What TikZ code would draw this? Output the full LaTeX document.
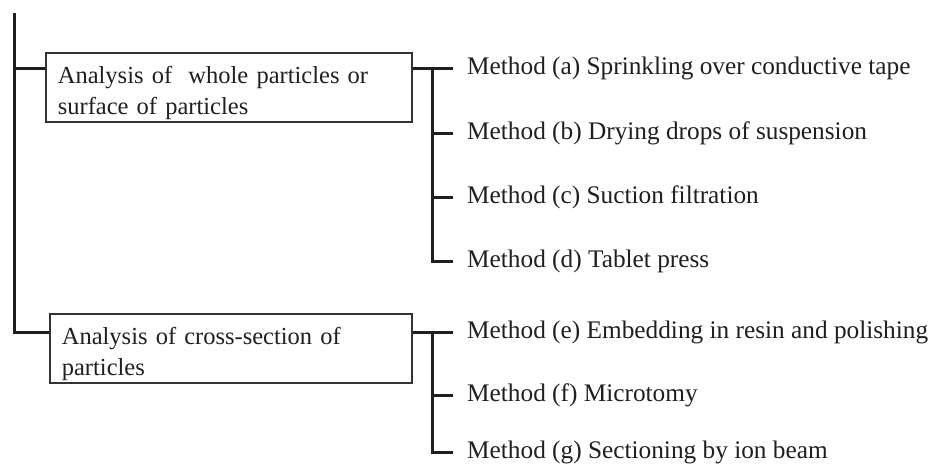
\documentclass[tikz,border=0pt]{standalone}
\usepackage{fontspec}
\setmainfont{Liberation Serif}
\usetikzlibrary{calc}
\begin{document}
\begin{tikzpicture}[x=1pt,y=-1pt,
  conn/.style={line width=3pt, draw=black!88},
  catbox/.style={draw=black!80, line width=1.7pt, anchor=north west,
    minimum height=69pt, inner xsep=12pt, inner ysep=0pt, align=left,
    text=black!88, font=\fontsize{24.5}{31}\selectfont},
  method/.style={anchor=base west, inner sep=0pt, text=black!88,
    font=\fontsize{25.3}{30}\selectfont}]
\useasboundingbox (0,0) rectangle (933,463);

% category boxes
\node[catbox, text width=342pt, minimum width=366pt] (b1) at (45,52)
  {\rule{0pt}{28pt}Analysis of~ whole particles or\\surface of particles};
\node[catbox, text width=338pt, minimum width=362pt] (b2) at (49,313)
  {\rule{0pt}{28pt}Analysis of cross-section of\\particles};

% main trunk
\coordinate (top) at (14,13);
\coordinate (j1) at (14,68);
\coordinate (j2) at (14,332);
\draw[conn] (top) -- (j2) -- (b2.west |- j2);
\draw[conn] (j1) -- (b1.west |- j1);

% methods, group 1
\node[method] (ma) at (467,74) {Method (a) Sprinkling over conductive tape};
\node[method] (mb) at (467,139) {Method (b) Drying drops of suspension};
\node[method] (mc) at (467,203) {Method (c) Suction filtration};
\node[method] (md) at (467,267) {Method (d) Tablet press};
\coordinate (ta) at (453,68);
\coordinate (tb) at (453,133);
\coordinate (tc) at (453,197);
\coordinate (td) at (453,261);
\coordinate (v1) at (432,68);
\draw[conn] (b1.east |- ta) -- (ta);
\draw[conn] (v1) -- (v1 |- td) -- (td);
\draw[conn] (v1 |- tb) -- (tb);
\draw[conn] (v1 |- tc) -- (tc);

% methods, group 2
\node[method] (me) at (467,338) {Method (e) Embedding in resin and polishing};
\node[method] (mf) at (467,401) {Method (f) Microtomy};
\node[method] (mg) at (467,458) {Method (g) Sectioning by ion beam};
\coordinate (te) at (453,332);
\coordinate (tf) at (453,395);
\coordinate (tg) at (453,452);
\coordinate (v2) at (432,332);
\draw[conn] (b2.east |- te) -- (te);
\draw[conn] (v2) -- (v2 |- tg) -- (tg);
\draw[conn] (v2 |- tf) -- (tf);
\end{tikzpicture}
\end{document}
